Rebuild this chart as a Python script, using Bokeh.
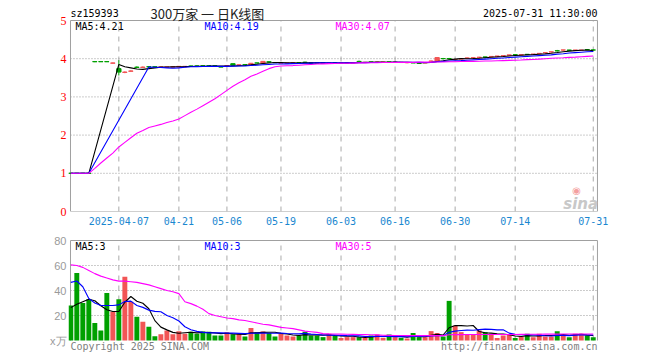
import pandas as pd
from bokeh.plotting import figure
from bokeh.layouts import column
from bokeh.models import Range1d, FixedTicker, Label, ColumnDataSource
from bokeh.embed import file_html
from bokeh.resources import INLINE

# ---------------- data ----------------
holidays = ["2025-04-04", "2025-05-01", "2025-05-02", "2025-05-05", "2025-06-02"]
dates = [d.strftime("%Y-%m-%d") for d in pd.bdate_range("2025-03-25", "2025-07-31")
         if d.strftime("%Y-%m-%d") not in holidays]

tick_dates = ["2025-04-07", "2025-04-21", "2025-05-06", "2025-05-19", "2025-06-03",
              "2025-06-16", "2025-06-30", "2025-07-14", "2025-07-31"]
tick_labels = ["2025-04-07", "04-21", "05-06", "05-19", "06-03", "06-16", "06-30", "07-14", "07-31"]
price_ticks = [0, 1, 2, 3, 4, 5]
vol_ticks = [0, 20, 40, 60, 80]

opens = [1.002, 1.002, 1.002, 1.002, 3.925, 3.925, 3.925, 3.88, 3.74, 3.64,
         3.67, 3.78, 3.77, 3.79, 3.79, 3.78, 3.78, 3.78, 3.78, 3.79,
         3.81, 3.81, 3.815, 3.815, 3.815, 3.79, 3.81, 3.87, 3.83, 3.845,
         3.84, 3.89, 3.88, 3.92, 3.90, 3.88, 3.88, 3.89, 3.90, 3.91,
         3.89, 3.89, 3.89, 3.885, 3.895, 3.89, 3.89, 3.89, 3.93, 3.90,
         3.915, 3.905, 3.905, 3.915, 3.905, 3.905, 3.895, 3.895, 3.885, 3.89,
         3.93, 3.94, 4.005, 4.005, 3.975, 3.99, 4.01, 4.02, 4.03, 4.045,
         4.05, 4.06, 4.07, 4.09, 4.105, 4.10, 4.115, 4.115, 4.135, 4.155,
         4.175, 4.21, 4.225, 4.225, 4.22, 4.22, 4.24, 4.23]
highs = [1.002, 1.002, 1.002, 1.002, 3.94, 3.925, 3.925, 3.90, 3.96, 3.67,
         3.70, 3.80, 3.80, 3.80, 3.79, 3.79, 3.79, 3.80, 3.80, 3.80,
         3.82, 3.82, 3.82, 3.82, 3.82, 3.79, 3.82, 3.87, 3.85, 3.85,
         3.89, 3.895, 3.94, 3.93, 3.90, 3.89, 3.89, 3.90, 3.90, 3.92,
         3.89, 3.89, 3.89, 3.89, 3.90, 3.90, 3.90, 3.90, 3.95, 3.91,
         3.92, 3.92, 3.91, 3.92, 3.92, 3.91, 3.90, 3.90, 3.89, 3.90,
         3.95, 4.04, 4.02, 4.02, 3.99, 4.00, 4.03, 4.04, 4.05, 4.05,
         4.07, 4.07, 4.085, 4.10, 4.12, 4.11, 4.12, 4.12, 4.14, 4.16,
         4.18, 4.23, 4.23, 4.23, 4.23, 4.23, 4.25, 4.24]
lows = [1.0, 1.0, 1.0, 1.0, 3.91, 3.92, 3.92, 3.87, 3.56, 3.62,
        3.66, 3.76, 3.76, 3.78, 3.78, 3.78, 3.77, 3.78, 3.78, 3.79,
        3.80, 3.80, 3.81, 3.81, 3.81, 3.78, 3.80, 3.82, 3.83, 3.84,
        3.84, 3.88, 3.88, 3.90, 3.895, 3.88, 3.88, 3.89, 3.89, 3.89,
        3.88, 3.88, 3.88, 3.88, 3.89, 3.89, 3.89, 3.89, 3.92, 3.89,
        3.90, 3.90, 3.90, 3.91, 3.90, 3.90, 3.88, 3.89, 3.87, 3.89,
        3.92, 3.94, 3.98, 3.98, 3.97, 3.99, 4.00, 4.01, 4.02, 4.03,
        4.04, 4.05, 4.06, 4.08, 4.09, 4.09, 4.10, 4.10, 4.12, 4.14,
        4.16, 4.19, 4.21, 4.21, 4.21, 4.21, 4.23, 4.22]
closes = [1.0, 1.0, 1.0, 1.0, 3.92, 3.92, 3.92, 3.89, 3.65, 3.65,
          3.68, 3.77, 3.78, 3.785, 3.785, 3.785, 3.785, 3.79, 3.80, 3.80,
          3.80, 3.805, 3.81, 3.81, 3.81, 3.78, 3.82, 3.83, 3.84, 3.84,
          3.88, 3.885, 3.93, 3.91, 3.895, 3.89, 3.885, 3.895, 3.895, 3.90,
          3.885, 3.885, 3.885, 3.89, 3.89, 3.895, 3.895, 3.895, 3.925, 3.905,
          3.91, 3.91, 3.91, 3.91, 3.91, 3.90, 3.90, 3.89, 3.88, 3.895,
          3.94, 4.03, 4.00, 4.00, 3.98, 4.00, 4.02, 4.025, 4.04, 4.04,
          4.06, 4.07, 4.08, 4.10, 4.10, 4.105, 4.11, 4.12, 4.14, 4.16,
          4.18, 4.205, 4.23, 4.22, 4.225, 4.225, 4.235, 4.225]

ma5 = [1.0, 1.0, 1.0, 1.0, None, None, None, None, 3.85, 3.79,
       3.76, 3.73, 3.72, 3.74, 3.76, 3.78, 3.781, 3.785, 3.79, 3.792,
       3.795, 3.80, 3.803, 3.805, 3.81, 3.806, 3.808, 3.81, 3.816, 3.822,
       3.838, 3.855, 3.873, 3.889, 3.90, 3.90, 3.893, 3.891, 3.889, 3.89,
       3.89, 3.89, 3.89, 3.887, 3.887, 3.889, 3.891, 3.893, 3.90, 3.903,
       3.906, 3.91, 3.912, 3.909, 3.91, 3.908, 3.906, 3.90, 3.896, 3.893,
       3.901, 3.927, 3.947, 3.973, 3.99, 4.002, 4.0, 4.005, 4.013, 4.025,
       4.037, 4.047, 4.058, 4.07, 4.082, 4.091, 4.099, 4.107, 4.117, 4.127,
       4.142, 4.161, 4.183, 4.199, 4.212, 4.221, 4.227, 4.21]
ma10 = [1.0, 1.0, 1.0, 1.0, None, None, None, None, None, None,
        None, None, None, 3.78, 3.775, 3.77, 3.76, 3.75, 3.76, 3.775,
        3.79, 3.793, 3.796, 3.798, 3.80, 3.80, 3.80, 3.805, 3.81, 3.81,
        3.82, 3.83, 3.84, 3.85, 3.86, 3.86, 3.865, 3.87, 3.875, 3.88,
        3.885, 3.89, 3.89, 3.89, 3.89, 3.89, 3.89, 3.89, 3.895, 3.895,
        3.90, 3.90, 3.90, 3.90, 3.905, 3.905, 3.905, 3.905, 3.905, 3.90,
        3.905, 3.92, 3.93, 3.94, 3.945, 3.95, 3.96, 3.97, 3.98, 3.99,
        4.0, 4.01, 4.02, 4.03, 4.04, 4.05, 4.06, 4.07, 4.08, 4.09,
        4.10, 4.12, 4.13, 4.15, 4.16, 4.17, 4.18, 4.19]
ma30 = [1.0, 1.0, 1.0, 1.0, 1.13, 1.27, 1.40, 1.53, 1.69, 1.81,
        1.93, 2.05, 2.12, 2.20, 2.24, 2.28, 2.33, 2.37, 2.42, 2.51,
        2.60, 2.68, 2.77, 2.86, 2.95, 3.06, 3.17, 3.28, 3.37, 3.45,
        3.54, 3.60, 3.67, 3.74, 3.79, 3.81, 3.815, 3.82, 3.83, 3.84,
        3.85, 3.86, 3.865, 3.87, 3.875, 3.88, 3.88, 3.885, 3.89, 3.89,
        3.895, 3.895, 3.90, 3.90, 3.90, 3.905, 3.905, 3.905, 3.91, 3.91,
        3.91, 3.915, 3.915, 3.92, 3.92, 3.925, 3.93, 3.93, 3.935, 3.94,
        3.94, 3.945, 3.95, 3.955, 3.96, 3.965, 3.975, 3.98, 3.99, 4.0,
        4.01, 4.02, 4.025, 4.035, 4.04, 4.05, 4.06, 4.07]

volume = [28, 54, 30, 33, 14, 8, 38, 23, 33, 51,
          31, 19, 15, 11, 3.5, 5, 8, 5, 7.5, 5.4,
          7, 5.4, 7.3, 7, 4, 4, 6.7, 5, 5.4, 3.2,
          10, 6.7, 7.3, 6, 3.2, 5.4, 4, 3.2, 4, 7,
          4, 4, 2.7, 5.4, 4, 2, 2.7, 2.7, 2.7, 2.2,
          4, 4.8, 2.2, 4.8, 2.7, 2.2, 1.6, 6, 2.7, 2.7,
          7.5, 6, 3.2, 31.7, 11.8, 6.7, 4.8, 4.8, 8, 6.7,
          5.4, 2, 4, 4.8, 2, 3.2, 5.4, 2.7, 5.4, 3.2,
          3.2, 7.5, 4, 2.7, 5.4, 5.4, 4, 2.7]
vma5 = [26.3, 29, 31, 33, 31.8, 27.8, 24.6, 23.2, 23.2, 30.6,
        35.2, 31.4, 29.8, 25.4, 15.9, 10.7, 8.5, 6.5, 5.8, 6.2,
        6.6, 6.1, 6.5, 6.4, 6.1, 5.5, 5.8, 5.3, 5.0, 4.9,
        6.1, 6.1, 6.5, 6.6, 6.6, 5.7, 5.2, 4.4, 4.0, 4.7,
        4.4, 4.4, 4.3, 4.6, 4.0, 3.6, 3.4, 3.4, 2.8, 2.5,
        2.9, 3.3, 3.2, 3.6, 3.7, 3.3, 2.7, 3.5, 3.0, 3.0,
        4.1, 5.0, 4.4, 10.2, 12.0, 11.9, 11.6, 12.0, 7.2, 6.2,
        5.9, 5.4, 5.2, 4.6, 3.6, 3.2, 3.9, 3.6, 3.7, 4.0,
        4.0, 4.4, 4.7, 4.1, 4.6, 5.0, 4.3, 4.0]
vma10 = [46.5, 47.6, 43, 33.6, 30, 28, 28, 28, 28.5, 31.2,
         31.5, 28, 26.5, 24.3, 23.3, 23, 20, 18.2, 15.6, 11,
         8.6, 7.3, 6.5, 6.1, 6.2, 6.1, 5.9, 5.9, 5.7, 5.5,
         5.8, 5.9, 5.9, 5.8, 5.75, 5.9, 5.6, 5.4, 5.3, 5.7,
         5.1, 4.8, 4.35, 4.3, 4.4, 4.0, 3.9, 3.85, 3.7, 3.2,
         3.2, 3.3, 3.3, 3.2, 3.1, 3.1, 3.0, 3.3, 3.3, 3.4,
         3.7, 3.8, 3.9, 6.6, 7.5, 8.0, 8.3, 8.2, 8.7, 9.1,
         8.9, 8.5, 8.6, 5.9, 4.9, 4.6, 4.6, 4.4, 4.2, 3.8,
         3.6, 4.1, 4.1, 3.9, 4.3, 4.5, 4.35, 4.35]
vma30 = [60.5, 60, 58.5, 56, 53.5, 51.5, 50, 48.5, 47.5, 47.5,
         47, 46.5, 45.5, 44.5, 43, 41.5, 40, 39, 37.5, 31,
         29.5, 27.5, 25, 21.5, 20, 19, 18, 17.5, 16.5, 16,
         15, 14, 13, 12.5, 11.5, 10.5, 10, 9.5, 8.5, 7.5,
         7, 6.5, 5.5, 5.3, 5.2, 5.1, 5.0, 4.9, 4.8, 4.7,
         4.6, 4.5, 4.2, 4.1, 4.0, 4.0, 3.9, 3.9, 3.9, 3.9,
         3.9, 3.9, 3.9, 4.6, 4.7, 4.7, 4.8, 4.8, 4.8, 4.8,
         4.8, 4.8, 4.8, 4.8, 4.8, 4.9, 5.0, 5.0, 5.0, 5.1,
         5.1, 5.1, 5.2, 5.2, 5.2, 5.2, 5.2, 5.2]

# ---------------- styling ----------------
RED = "#f25555"
GREEN = "#00a000"
MONO = "DejaVu Sans Mono"
GRAY_FRAME = "#a0a0a0"
XLBL = "#1a87d0"

idx = list(range(len(dates)))
tick_idx = [dates.index(d) for d in tick_dates]
overrides = {i: lab for i, lab in zip(tick_idx, tick_labels)}
colors = [RED if c >= o else GREEN for o, c in zip(opens, closes)]

# plotting frame spans pixel 68..599; the drawn chart box spans 70..597
XL, XR = -0.05, 87.7
xr = Range1d(-0.383, 88.04)

src = ColumnDataSource(dict(i=idx, o=opens, h=highs, l=lows, c=closes,
                            top=[max(a, b) for a, b in zip(opens, closes)],
                            bot=[min(a, b) for a, b in zip(opens, closes)],
                            color=colors, vol=volume))


def style_yaxis(p, color, font, size):
    p.yaxis.major_label_text_color = color
    p.yaxis.major_label_text_font = font
    p.yaxis.major_label_text_font_size = size
    p.yaxis.axis_line_color = None
    p.yaxis.major_tick_line_color = None
    p.yaxis.minor_tick_line_color = None
    p.yaxis.major_tick_out = 0
    p.yaxis.major_tick_in = 0
    p.yaxis.minor_tick_out = 0
    p.yaxis.major_label_standoff = 2


def chart_box(p, top, grid_levels, with_bottom=True):
    # vertical dashed grid at date ticks
    p.segment(x0=tick_idx, y0=[0] * len(tick_idx), x1=tick_idx, y1=[top] * len(tick_idx),
              line_color="#aaaaaa", line_dash="5 5", line_width=1)
    # horizontal dotted grid
    p.segment(x0=[XL] * len(grid_levels), y0=grid_levels, x1=[XR] * len(grid_levels),
              y1=grid_levels, line_color="#999999", line_dash="1 2", line_width=1)
    xs0 = [XL, XL, XR]
    ys0 = [0, top, top]
    xs1 = [XL, XR, XR]
    ys1 = [top, top, 0]
    if with_bottom:
        xs0.append(XL); ys0.append(0); xs1.append(XR); ys1.append(0)
    p.segment(x0=xs0, y0=ys0, x1=xs1, y1=ys1, line_color=GRAY_FRAME, line_width=1)


def ma_line(p, vals, color):
    xs = [i for i, v in zip(idx, vals) if v is not None]
    ys = [v for v in vals if v is not None]
    p.line(xs, ys, line_color=color, line_width=1.1)


def lab(p, x, y, text, color="#000000", font=MONO, size="10px", align="left", style="normal"):
    p.add_layout(Label(x=x, y=y, text=text, text_color=color, text_font=font,
                       text_font_size=size, text_align=align, text_baseline="middle",
                       text_font_style=style))


# ---------------- price panel ----------------
PPU = 38.2  # pixels per price unit
p1 = figure(width=660, height=232, x_range=xr, y_range=Range1d(0, 211 / PPU),
            output_backend="svg", toolbar_location=None,
            min_border_left=68, min_border_right=61, min_border_top=0, min_border_bottom=21)
p1.outline_line_color = None
p1.xgrid.visible = False
p1.ygrid.visible = False
p1.yaxis.ticker = FixedTicker(ticks=price_ticks)
style_yaxis(p1, "#ff0000", "Liberation Serif", "12px")
p1.xaxis.ticker = FixedTicker(ticks=tick_idx)
p1.xaxis.major_label_overrides = overrides
p1.xaxis.major_label_text_color = XLBL
p1.xaxis.major_label_text_font = MONO
p1.xaxis.major_label_text_font_size = "10px"
p1.xaxis.axis_line_color = None
p1.xaxis.major_tick_line_color = None
p1.xaxis.minor_tick_line_color = None
p1.xaxis.major_tick_out = 0
p1.xaxis.major_tick_in = 0
p1.xaxis.minor_tick_out = 0
p1.xaxis.major_label_standoff = 5

chart_box(p1, 5, [1, 2, 3, 4])

p1.segment(x0="i", y0="l", x1="i", y1="h", line_color="color", line_width=1, source=src)
p1.vbar(x="i", width=0.72, top="top", bottom="bot", fill_color="color", line_color="color",
        line_width=1, source=src)
ma_line(p1, ma5, "#000000")
ma_line(p1, ma10, "#0000ff")
ma_line(p1, ma30, "#ff00ff")

y_ma = (211 - 26) / PPU
y_hdr = (211 - 13) / PPU
lab(p1, 0.78, y_ma, "MA5:4.21", "#000000")
lab(p1, 22.26, y_ma, "MA10:4.19", "#0000ff")
lab(p1, 44.08, y_ma, "MA30:4.07", "#ff00ff")
lab(p1, XL, y_hdr, "sz159393", "#000000")
lab(p1, 13.27, y_hdr, "300万家 一 日K线图", "#222222", font="Noto Sans CJK SC", size="13px")
lab(p1, XR, y_hdr, "2025-07-31 11:30:00", "#000000", align="right")
lab(p1, 82.0, (211 - 203) / PPU, "sina", "#c8c8c8", font="DejaVu Sans", size="15px", style="bold italic")
lab(p1, 83.5, (211 - 190) / PPU, "◉", "#f4a0a0", font="DejaVu Sans", size="10px")

# ---------------- volume panel ----------------
VPU = 1.25  # pixels per volume unit; 0 at page y=340, panel spans page y 232..356
p2 = figure(width=660, height=124, x_range=xr, y_range=Range1d(-16 / VPU, 108 / VPU),
            output_backend="svg", toolbar_location=None, x_axis_location=None,
            min_border_left=68, min_border_right=61, min_border_top=0, min_border_bottom=0)
p2.outline_line_color = None
p2.xgrid.visible = False
p2.ygrid.visible = False
p2.yaxis.ticker = FixedTicker(ticks=vol_ticks)
p2.yaxis.major_label_overrides = {0: "x万"}
style_yaxis(p2, "#9a9a9a", "Liberation Sans", "11px")

chart_box(p2, 80, [20, 40, 60], with_bottom=False)

p2.vbar(x="i", width=0.82, top="vol", bottom=0, fill_color="color", line_color=None, source=src)
ma_line(p2, vma5, "#000000")
ma_line(p2, vma10, "#0000ff")
ma_line(p2, vma30, "#ff00ff")

y_vma = (340 - 246) / VPU
y_foot = (340 - 346) / VPU
lab(p2, 0.78, y_vma, "MA5:3", "#000000")
lab(p2, 22.26, y_vma, "MA10:3", "#0000ff")
lab(p2, 44.08, y_vma, "MA30:5", "#ff00ff")
lab(p2, XL, y_foot, "Copyright 2025 SINA.COM", "#808080")
lab(p2, XR, y_foot, "http://finance.sina.com.cn", "#808080", align="right")

layout = column(p1, p2, spacing=0)
open("out.html", "w").write(file_html(layout, INLINE))
